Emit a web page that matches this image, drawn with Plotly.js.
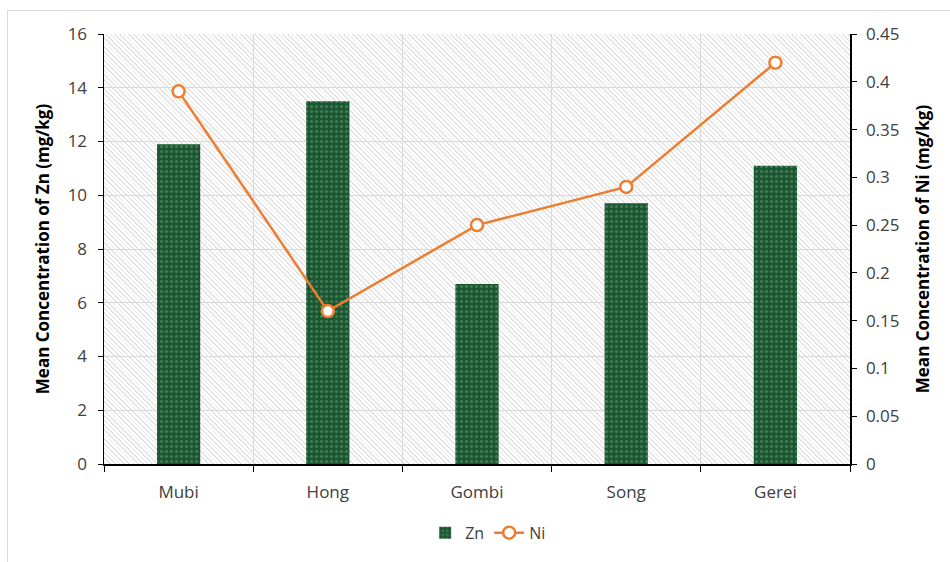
<!DOCTYPE html>
<html>
<head>
<meta charset="utf-8">
<script src="https://cdn.plot.ly/plotly-3.0.1.min.js"></script>
<style>
  html, body { margin: 0; padding: 0; background: #ffffff; }
  #wrap { position: relative; width: 950px; height: 562px; overflow: hidden; }
  #frame { position: absolute; left: 7px; top: 10px; width: 950px; height: 600px; border: 1px solid #d9d9d9; box-sizing: border-box; }
  #hatch { position: absolute; left: 104px; top: 34px; width: 746px; height: 432px;
    background: repeating-linear-gradient(45deg, #ffffff 0px, #ffffff 2.2px, #e4e4e4 2.2px, #e4e4e4 3.3px); }
  #chart { position: absolute; left: 0; top: 0; width: 950px; height: 562px; }
</style>
</head>
<body>
<div id="wrap">
  <div id="frame"></div>
  <div id="hatch"></div>
  <div id="chart"></div>
</div>
<script>
const categories = ["Mubi", "Hong", "Gombi", "Song", "Gerei"];
const znValues = [11.9, 13.5, 6.7, 9.7, 11.1];
const niValues = [0.39, 0.16, 0.25, 0.29, 0.42];
const leftTicks = [0, 2, 4, 6, 8, 10, 12, 14, 16];
const rightTicks = [0, 0.05, 0.1, 0.15, 0.2, 0.25, 0.3, 0.35, 0.4, 0.45];
const rightTickText = ["0", "0.05", "0.1", "0.15", "0.2", "0.25", "0.3", "0.35", "0.4", "0.45"];

const FONT = "Open Sans, Noto Sans, sans-serif";
const tickFont = { family: FONT, size: 17, color: "#404040" };
const titleFont = { family: FONT, size: 17, color: "#000000", weight: "bold" };

const traces = [
  {
    type: "bar",
    name: "Zn",
    x: categories,
    y: znValues,
    width: 0.29,
    marker: {
      color: "#1d5a34",
      line: { width: 0 },
      pattern: { shape: ".", fgcolor: "#3f7d52", bgcolor: "#1b5532", size: 5, solidity: 0.3 }
    },
    yaxis: "y"
  },
  {
    type: "scatter",
    mode: "lines+markers",
    name: "Ni",
    x: categories,
    y: niValues,
    line: { color: "#ED7D31", width: 2.5 },
    marker: { symbol: "circle", size: 12, color: "#ffffff", line: { color: "#ED7D31", width: 2.5 } },
    yaxis: "y2"
  }
];

const layout = {
  width: 950,
  height: 562,
  margin: { l: 104, r: 100, t: 34, b: 96 },
  paper_bgcolor: "rgba(0,0,0,0)",
  plot_bgcolor: "rgba(0,0,0,0)",
  showlegend: true,
  legend: {
    orientation: "h",
    x: 0.515, xanchor: "center",
    y: -0.16, yanchor: "middle",
    font: { family: FONT, size: 16, color: "#404040" },
    bgcolor: "rgba(0,0,0,0)"
  },
  xaxis: {
    type: "category",
    tickson: "boundaries",
    ticks: "outside",
    ticklen: 6,
    tickcolor: "#000000",
    showline: true,
    linecolor: "#000000",
    linewidth: 1.5,
    showgrid: true,
    gridcolor: "#d9d9d9",
    gridwidth: 1,
    tickfont: tickFont,
    ticklabelstandoff: 12,
    fixedrange: true
  },
  yaxis: {
    range: [0, 16],
    tickvals: leftTicks,
    ticks: "outside",
    ticklen: 5,
    tickcolor: "#000000",
    showline: true,
    linecolor: "#000000",
    linewidth: 1.5,
    showgrid: true,
    gridcolor: "#d9d9d9",
    zeroline: false,
    tickfont: tickFont,
    ticklabelstandoff: 7,
    title: { text: "Mean Concentration of Zn (mg/kg)", font: titleFont, standoff: 13 }
  },
  yaxis2: {
    overlaying: "y",
    side: "right",
    range: [0, 0.45],
    tickvals: rightTicks,
    ticktext: rightTickText,
    ticks: "outside",
    ticklen: 5,
    tickcolor: "#000000",
    showline: true,
    linecolor: "#000000",
    linewidth: 1.5,
    showgrid: false,
    zeroline: false,
    tickfont: tickFont,
    ticklabelstandoff: 6,
    title: { text: "Mean Concentration of Ni (mg/kg)", font: titleFont, standoff: 18 }
  }
};

Plotly.newPlot("chart", traces, layout, { displayModeBar: false, staticPlot: true });
</script>
</body>
</html>
